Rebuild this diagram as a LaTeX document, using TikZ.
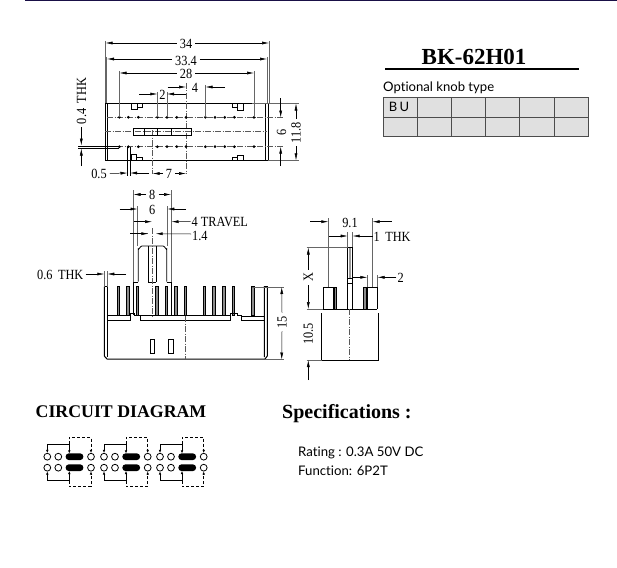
\documentclass[tikz,border=0pt]{standalone}
\usepackage{fontspec}
\setmainfont[Ligatures=NoCommon]{Lato}
\newfontfamily\dimfont[FakeStretch=0.88]{Liberation Serif}
\newfontfamily\headfont{Liberation Serif}
\usetikzlibrary{arrows.meta}
\definecolor{navytop}{RGB}{25,15,70}
\definecolor{cellgray}{RGB}{224,224,224}
\tikzset{
	outline/.style={line width=1pt},
	ext/.style={black!60,line width=0.5pt},
	dimline/.style={-{Latex[length=7pt,width=3pt]},line width=0.5pt},
	center/.style={black!65,line width=0.45pt,dash pattern=on 6pt off 1.5pt on 1pt off 1.5pt},
	dimtxt/.style={font=\dimfont\fontsize{14}{14}\selectfont,inner sep=0pt},
	pinbar/.style={fill=black!45,draw=black,line width=0.6pt},
	terminal/.style={circle,draw,line width=0.8pt,fill=white,minimum size=6.8pt,inner sep=0pt},
	contact/.style={fill=black,rounded corners=3pt},
	wire/.style={-{Latex[length=3pt,width=2.6pt]},line width=0.7pt},
	wiredash/.style={wire,densely dashed},
	head/.style={font=\headfont\bfseries,inner sep=0pt,anchor=west}
}
\begin{document}
\begin{tikzpicture}[x=1pt,y=-1pt]
	\useasboundingbox (0,0) rectangle (617,567);
	\fill[navytop] (25,0) rectangle (617,1.2);

	% top view
	\draw[outline] (105,103) rectangle (268,160.7);
	\draw[outline] (107,103) -- (107,160.7);
	\draw[outline] (265.7,103) -- (265.7,160.7);
	\draw[center] (105,131.7) -- (267,131.7);
	\draw[center] (186,83) -- (186,174);
	\draw[center] (152.7,130) -- (152.7,174);
	\draw[center] (107,117.5) -- (283,117.5);
	\draw[center] (107,146.7) -- (283,146.7);
	\foreach \px in {119.3,128.3,138.3,157.3,167,176.7,186,205.3,215,224.7,234.3,254}{
		\fill (\px,117.3) circle (1.5pt);
		\fill (\px,146.7) circle (1.5pt);
	}
	\draw[line width=1.1pt] (133.3,128.7) rectangle (171.7,135.3);
	\draw[line width=0.6pt] (171.7,128.7) -- (191,128.7) -- (191,135.3) -- (171.7,135.3);
	\draw (144,128.7) -- (144,135.3);
	\draw (156.7,128.7) -- (156.7,135.3);
	\draw (130.7,104) -- (130.7,109.3) -- (137,109.3) -- (137,104) (137,107.3) -- (141.7,107.3) -- (141.7,104);
	\draw (231.7,104) -- (231.7,107.3) -- (236.7,107.3) (236.7,104) -- (236.7,110) -- (242.7,110) -- (242.7,104);
	\draw (130.7,160) -- (130.7,154) -- (136,154) -- (136,160) (136,157.3) -- (141.7,157.3) -- (141.7,160);
	\draw (231.7,160) -- (231.7,157.3) -- (236.7,157.3) (236.7,160) -- (236.7,155.3) -- (242.7,155.3) -- (242.7,160);

	\draw[ext] (105.3,41) -- (105.3,103);
	\draw[ext] (269.3,41) -- (269.3,103);
	\draw[ext] (106.7,57) -- (106.7,103);
	\draw[ext] (267.3,57) -- (267.3,103);
	\draw[ext] (119.3,71) -- (119.3,117);
	\draw[ext] (254,71) -- (254,117);
	\draw[ext] (205.3,85) -- (205.3,117);
	\draw[ext] (157.3,92) -- (157.3,117);
	\draw[ext] (167,92) -- (167,117);

	\node[dimtxt] (lenA) at (186,44) {34};
	\draw[dimline] (lenA.west) ++(-3,-1) -- (105.5,43);
	\draw[dimline] (lenA.east) ++(3,-1) -- (269,43);
	\node[dimtxt] (lenB) at (186,60.5) {33.4};
	\draw[dimline] (lenB.west) ++(-3,-1.5) -- (107,59);
	\draw[dimline] (lenB.east) ++(3,-1.5) -- (267,59);
	\node[dimtxt] (lenC) at (186,74) {28};
	\draw[dimline] (lenC.west) ++(-3,-1) -- (119.5,73);
	\draw[dimline] (lenC.east) ++(3,-1) -- (254,73);
	\node[dimtxt] (pitchB) at (195,87.5) {4};
	\coordinate (pitchBa) at (167.7,87);
	\coordinate (pitchBb) at (225,87);
	\draw[dimline] (pitchBa) -- (186,87);
	\draw[dimline] (pitchBb) -- (205.5,87);
	\node[dimtxt] (pitchA) at (162.5,95) {2};
	\coordinate (pitchAa) at (139,94);
	\coordinate (pitchAb) at (186,94);
	\draw[dimline] (pitchAa) -- (157.3,94);
	\draw[dimline] (pitchAb) -- (167,94);

	\node[dimtxt,rotate=90] (thkA) at (81.5,101) {0.4\,\ THK};
	\coordinate (thkAa) at (81.3,127);
	\coordinate (thkAb) at (81.3,166);
	\draw[dimline] (thkAa) -- (81.3,145.5);
	\draw[dimline] (thkAb) -- (81.3,148.5);
	\draw (78,145.7) -- (119,145.7);
	\draw (78,147.7) -- (119,147.7);

	\node[dimtxt] (pinB) at (99,173.5) {0.5};
	\coordinate (pinBa) at (149,173);
	\draw[dimline] (pinB.east) ++(3,0) -- (127.5,173);
	\draw[dimline] (pinBa) -- (130,173);
	\draw (127.3,147) -- (127.3,176);
	\draw (130,147) -- (130,176);
	\node[dimtxt] (pinC) at (169,174) {7};
	\draw[dimline] (pinC.west) ++(-3,-0.5) -- (152.7,173.5);
	\draw[dimline] (pinC.east) ++(3,-0.5) -- (186,173.5);

	\draw[ext] (252,103) -- (299,103);
	\draw[ext] (268,160.7) -- (299,160.7);
	\node[dimtxt,rotate=90] (widA) at (281.5,132.5) {6};
	\coordinate (widAa) at (280.7,98);
	\coordinate (widAb) at (280.7,166);
	\draw[dimline] (widAa) -- (280.7,117.5);
	\draw[dimline] (widAb) -- (280.7,146.7);
	\node[dimtxt,rotate=90] (widB) at (296,132.5) {11.8};
	\draw[dimline] (widB.east) ++(0,-3) -- (296,103.5);
	\draw[dimline] (widB.west) ++(0,3) -- (296,160.3);

	% side view
	\draw[outline] (104.3,286.7) -- (104.3,356) to[out=90,in=180,looseness=0] (107,359) -- (265,359) -- (267.3,356) -- (267.3,286.7) -- (264.3,286.7) -- (264.3,357);
	\draw[outline] (107.3,286.7) -- (107.3,357);
	\draw[outline] (104.3,286.7) -- (107.3,286.7);
	\foreach \px in {118,127.7,137.3,156.7,166,175.7,185.3,204.3,213.7,223.7,233.3,252.7}{
		\draw[pinbar] (\px-1.2,286.7) rectangle (\px+1.2,315.7);
	}
	\draw[outline] (107.3,315.7) -- (130,315.7) -- (130,320.7) -- (107.3,320.7);
	\draw[outline] (130,315.7) -- (130,313.3) -- (134,313.3) -- (134,315.7) -- (140.7,315.7) -- (230.7,315.7) -- (230.7,313.3) -- (237,313.3) -- (237,315.7) -- (241.7,315.7);
	\draw[line width=1.1pt] (140.7,315.7) -- (140.7,320.7) -- (230.7,320.7) -- (230.7,315.7);
	\draw[outline] (241.7,316) -- (241.7,320.7) -- (264.3,320.7);
	\draw[outline] (241.7,316) -- (264.3,316);
	\draw (132.7,315) -- (132.7,281.7) -- (138.3,281.7) (148.3,281.7) -- (155.7,281.7) (166.7,281.7) -- (171,281.7) -- (171,315);
	\draw[line width=0.8pt] (138.3,281.7) -- (138.3,249) to[out=-90,in=180] (142,246) -- (163,246) to[out=0,in=-90] (166.7,249) -- (166.7,281.7);
	\draw (148.3,246) -- (148.3,281.7);
	\draw (155.7,246) -- (155.7,281.7);
	\draw[center] (152,228) -- (152,316);
	\draw[center] (185.3,316) -- (185.3,359);
	\draw (149.7,338.7) rectangle (153.7,353.3);
	\draw (168.3,338.7) rectangle (172.7,353.3);

	\draw[ext] (133.3,190) -- (133.3,282);
	\draw[ext] (171,190) -- (171,282);
	\draw[ext] (137.6,206) -- (137.6,246);
	\draw[ext] (167.3,206) -- (167.3,246);
	\node[dimtxt] (knobA) at (152.3,195) {8};
	\draw[dimline] (knobA.west) ++(-3,-0.5) -- (133.5,194.5);
	\draw[dimline] (knobA.east) ++(3,-0.5) -- (171,194.5);
	\node[dimtxt] (knobB) at (152.3,210) {6};
	\coordinate (knobBa) at (119.5,209);
	\coordinate (knobBb) at (186,209);
	\draw[dimline] (knobBa) -- (137.5,209);
	\draw[dimline] (knobBb) -- (167.3,209);
	\coordinate (travelA) at (133.5,221.7);
	\node[dimtxt,anchor=west] (travel) at (191.5,221.5) {4 TRAVEL};
	\draw[dimline] (travelA) -- (152,221.7);
	\draw[dimline] (travel.west) ++(-1,0) -- (171.5,221.7);
	\draw[ext] (130,233.7) -- (148.3,233.7);
	\coordinate (knobCa) at (130,233.7);
	\node[dimtxt,anchor=west] (knobC) at (192,236) {1.4};
	\draw[dimline] (knobCa) -- (148.3,233.7);
	\draw[dimline] (knobC.west) ++(-1,-2) -- (155.7,233.7);
	\node[dimtxt,anchor=west] (thkB) at (37,274.5) {0.6\,\ THK};
	\coordinate (thkBb) at (126,274);
	\draw[dimline] (thkB.east) ++(2,-0.5) -- (104.3,274);
	\draw[dimline] (thkBb) -- (107.3,274);
	\draw[ext] (104.3,271) -- (104.3,287);
	\draw[ext] (107.3,271) -- (107.3,287);

	\draw[ext] (252,287) -- (284,287);
	\draw[ext] (265,359.5) -- (284,359.5);
	\node[dimtxt,rotate=90] (heightA) at (282,322) {15};
	\draw[dimline] (heightA.east) ++(0,-3) -- (281.7,287);
	\draw[dimline] (heightA.west) ++(0,3) -- (281.7,359.5);

	% end view
	\draw[ext] (328.3,218) -- (328.3,287);
	\draw[ext] (372.3,218) -- (372.3,287);
	\node[dimtxt] (endA) at (350,223) {9.1};
	\coordinate (endAa) at (310,221.7);
	\coordinate (endAb) at (391.7,221.7);
	\draw[dimline] (endAa) -- (328.3,221.7);
	\draw[dimline] (endAb) -- (372.5,221.7);
	\coordinate (endBa) at (329,236);
	\node[dimtxt,anchor=west] (endB) at (373.5,237) {1\,\ THK};
	\draw[dimline] (endBa) -- (347.7,236);
	\draw[dimline] (endB.west) ++(-1,-1) -- (352.7,236);
	\draw[ext] (347.7,232) -- (347.7,247);
	\draw[ext] (352.7,232) -- (352.7,247);
	\draw[outline] (347.7,309) -- (347.7,247.3) -- (352.7,247.3) -- (352.7,309);
	\draw (347.7,278.3) -- (352.7,278.3);
	\draw (347.7,283.3) -- (352.7,283.3);
	\fill[black!40] (349.2,248) rectangle (350.6,278);
	\draw[outline] (323.3,309) -- (323.3,287.3) -- (333.3,287.3) -- (333.3,309);
	\draw[outline] (367.3,309) -- (367.3,287.3) -- (377.3,287.3) -- (377.3,309);
	\draw[pinbar] (334,287.3) rectangle (336,309);
	\draw[pinbar] (363.3,287.3) rectangle (366,309);
	\draw[outline] (323.3,309) -- (377.3,309);
	\draw[outline] (321.7,313.3) -- (321.7,360) -- (378.3,360) -- (378.3,313.3);
	\draw[center] (349.7,309) -- (349.7,360);
	\draw[ext] (306.7,247.3) -- (348,247.3);
	\draw[ext] (306.7,309) -- (323.3,309);
	\draw[ext] (306.7,360) -- (322,360);
	\node[dimtxt,rotate=90] (travelX) at (308.3,277.5) {X};
	\draw[dimline] (travelX.east) ++(0,-3) -- (308.3,247.5);
	\draw[dimline] (travelX.west) ++(0,3) -- (308.3,309);
	\node[dimtxt,rotate=90] (endH) at (308.3,334) {10.5};
	\coordinate (endHa) at (308.3,380);
	\draw[dimline] (endHa) -- (308.3,360);
	\draw[ext] (367.3,275) -- (367.3,287);
	\draw[ext] (377.3,275) -- (377.3,287);
	\coordinate (endCa) at (352.7,277.3);
	\draw[dimline] (endCa) -- (367.3,277.3);
	\node[dimtxt] (endC) at (400.7,278) {2};
	\draw[dimline] (endC.west) ++(-1,-0.7) -- (377.5,277.3);

	% title and table
	\node[head,font=\headfont\bfseries\fontsize{23}{23}\selectfont] (title) at (421.5,57) {BK-62H01};
	\coordinate (rulea) at (385,69);
	\coordinate (ruleb) at (579,69);
	\draw[line width=1.5pt] (rulea) -- (ruleb);
	\node[anchor=west,inner sep=0pt,font=\fontsize{13.1}{13}\selectfont] (knobtype) at (383,87.5) {Optional knob type};
	\fill[cellgray] (383.3,97.7) rectangle (588.3,136.7);
	\draw[black!70,line width=0.8pt] (383.3,97.7) rectangle (588.3,136.7);
	\draw[black!70,line width=0.8pt] (383.3,117.3) -- (588.3,117.3);
	\foreach \cx in {417.3,451.3,485.3,519.3,554}{
		\draw[black!70,line width=0.8pt] (\cx,97.7) -- (\cx,136.7);
	}
	\node[inner sep=0pt,font=\fontsize{13}{13}\selectfont] (bu) at (399,107) {B\,U};

	% circuit diagram
	\node[head,font=\headfont\bfseries\fontsize{17.8}{18}\selectfont] (circuit) at (35.5,412) {CIRCUIT DIAGRAM};
	\foreach \ox in {0,56.7,112.7}{
		\begin{scope}[xshift=\ox pt]
			\node[terminal] (ta) at (47.3,456.7) {};
			\node[terminal] (tb) at (58.3,456.7) {};
			\node[terminal] (tc) at (91,456.7) {};
			\node[terminal] (td) at (47.3,467.7) {};
			\node[terminal] (te) at (58.3,467.7) {};
			\node[terminal] (tf) at (91,467.7) {};
			\fill[contact] (65.7,453.4) rectangle (83.3,460);
			\fill[contact] (65.7,464.4) rectangle (83.3,471);
			\coordinate (ua) at (69.3,444.3);
			\coordinate (ub) at (69.3,480.7);
			\draw[wire] (ua) -| (ta.north);
			\draw[wire] (ua) -- (69.3,453.4);
			\draw[wire] (ub) -| (td.south);
			\draw[wire] (ub) -- (69.3,471);
			\draw[wiredash] (ua) -- (69.3,437.3) -| (tc.north);
			\draw[wiredash] (ub) -- (69.3,486.7) -| (tf.south);
		\end{scope}
	}

	% specifications
	\node[head,font=\headfont\bfseries\fontsize{20}{20}\selectfont] (spec) at (282,413.5) {Specifications :};
	\node[anchor=west,inner sep=0pt,font=\fontsize{13.2}{13}\selectfont] (rating) at (298,452.5) {Rating : 0.3A 50V DC};
	\node[anchor=west,inner sep=0pt,font=\fontsize{13.2}{13}\selectfont] (function) at (298,470.5) {Function: 6P2T};
\end{tikzpicture}
\end{document}
